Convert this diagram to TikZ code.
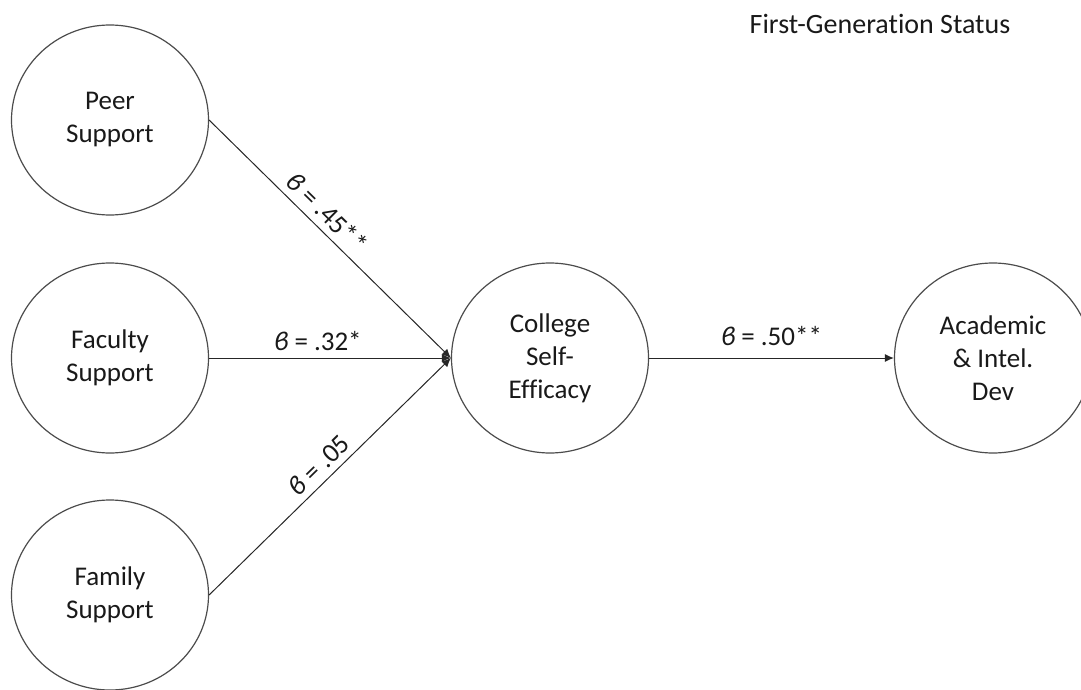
\documentclass[tikz,border=0pt]{standalone}
\usepackage{fontspec}
\setmainfont{Carlito}[Ligatures=CommonOff]
\usetikzlibrary{arrows.meta, shapes.geometric}
\tikzset{
  latent/.style={draw=black!70, ellipse, line width=0.6pt, minimum width=98.5pt,
                 minimum height=95pt, inner sep=0pt, align=center,
                 font=\fontsize{13.5}{16.5}\selectfont, text=black!90},
  flow/.style  ={-{Latex[length=4.5pt,width=4pt]}, draw=black!85, line width=0.5pt},
  lbl/.style   ={font=\fontsize{13.5}{16.5}\selectfont, text=black!90, inner sep=0pt},
}
\newcommand{\bcoef}{\textit{ϐ}}

\begin{document}
\begin{tikzpicture}[x=0.5pt,y=-0.5pt]
  \useasboundingbox (0,0) rectangle (1081,690);
  \node[latent] (peer) at (110,120) {Peer\\Support};
  \node[latent] (fac)  at (110,358) {Faculty\\Support};
  \node[latent] (fam)  at (110,595) {Family\\Support};
  \node[latent] (cse)  at (550,358) {College\\Self-\\Efficacy};
  \node[latent] (aid)  at (993,358) {Academic\\\& Intel.\\Dev};
  \node[lbl, font=\fontsize{14}{17}\selectfont] (title) at (880,24) {First-Generation Status};
  \draw[flow] (peer.east) -- node[lbl, sloped, pos=0.44, above=3.5pt]{\bcoef{} = .45**} (cse.west);
  \draw[flow] (fac.east)  -- node[lbl, pos=0.45, above=3.5pt]{\bcoef{} = .32*} (cse.west);
  \draw[flow] (fam.east)  -- node[lbl, sloped, pos=0.5, above=3pt]{\bcoef{} = .05} (cse.west);
  \draw[flow] (cse.east)  -- node[lbl, above=6pt]{\bcoef{} = .50**} (aid.west);
\end{tikzpicture}
\end{document}
